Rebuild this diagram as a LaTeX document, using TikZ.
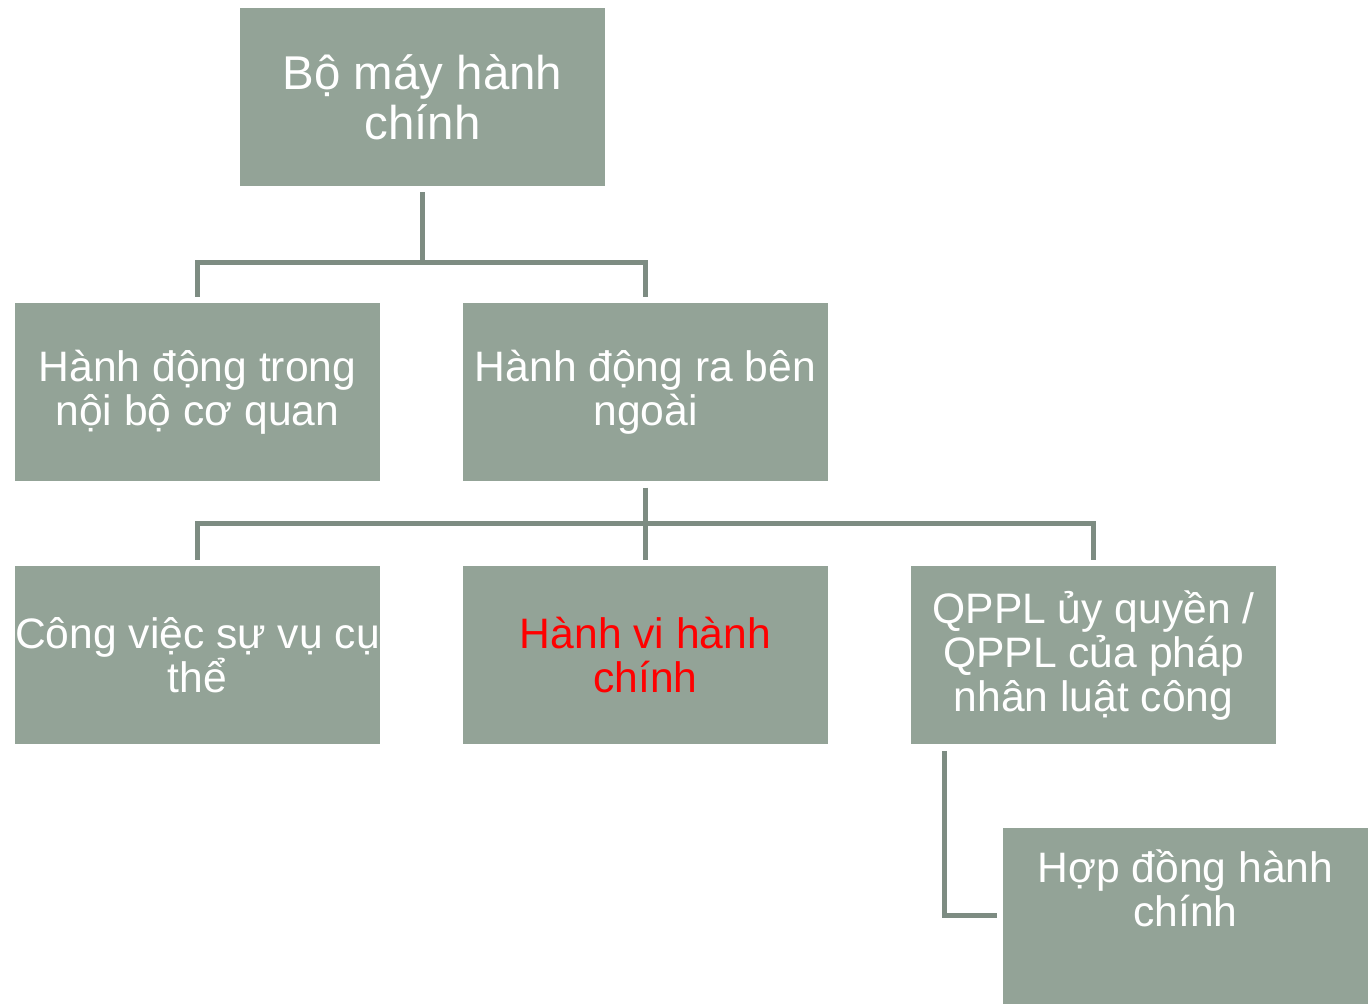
\documentclass[tikz,border=0pt]{standalone}
\usepackage{fontspec}
\setmainfont{Liberation Sans}
\definecolor{boxgray}{HTML}{93A397}
\definecolor{linegray}{HTML}{7D8C82}
\tikzset{
  box/.style={fill=boxgray, minimum width=182.5pt, minimum height=89pt, inner sep=0pt,
    text=white, align=center, font=\fontsize{21.3}{22}\selectfont},
  conn/.style={draw=linegray, line width=2.5pt, shorten <=3pt, shorten >=3pt}
}
\begin{document}
\begin{tikzpicture}[x=0.5pt, y=-0.5pt]
        \useasboundingbox (0,0) rectangle (1372,1004);
        \node[box, font=\fontsize{23.7}{25}\selectfont] (top) at (422.5, 97) {Bộ máy hành\\chính};
        \node[box] (noibo) at (197.5, 392.5) {Hành động trong\\nội bộ cơ quan};
        \node[box] (rangoai) at (645.5, 392.5) {Hành động ra bên\\ngoài};
        \node[box] (congviec) at (197.5, 655.5) {Công việc sự vụ cụ\\thể};
        \node[box, text=red] (hanhvi) at (645.5, 655.5) {Hành vi hành\\chính};
        \node[box] (qppl) at (1093.5, 655.5) {QPPL ủy quyền /\\QPPL của pháp\\nhân luật công};
        \node[box, minimum height=88pt] (hopdong) at (1185.5, 916) {};
        \node[text=white, align=center, font=\fontsize{21.3}{22}\selectfont] (hopdongtxt) at (1185.5, 888) {Hợp đồng hành\\chính};
        \draw[conn] (top.south) -- ++(0,76) -| (noibo.north);
        \draw[conn] (top.south) -- ++(0,76) -| (rangoai.north);
        \draw[conn] (rangoai.south) -- ++(0,42) -| (congviec.north);
        \draw[conn] (rangoai.south) -- (hanhvi.north);
        \draw[conn] (rangoai.south) -- ++(0,42) -| (qppl.north);
        \draw[conn] ([xshift=17pt]qppl.south west) |- (hopdong.west);
        \end{tikzpicture}
\end{document}
